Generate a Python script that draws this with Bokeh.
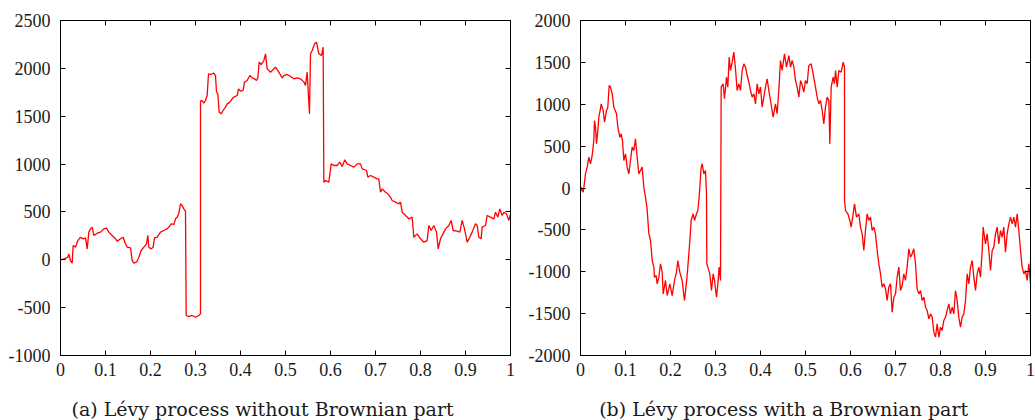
from bokeh.plotting import figure
from bokeh.layouts import row, column
from bokeh.models import LinearAxis, FixedTicker, Range1d
from bokeh.core.properties import value
from bokeh.embed import file_html
from bokeh.resources import INLINE

# ---------------- data ----------------
x_ticks = [0, 0.1, 0.2, 0.3, 0.4, 0.5, 0.6, 0.7, 0.8, 0.9, 1]
x_tick_labels = ["0", "0.1", "0.2", "0.3", "0.4", "0.5", "0.6", "0.7", "0.8", "0.9", "1"]

a_y_ticks = [-1000, -500, 0, 500, 1000, 1500, 2000, 2500]
a_y_tick_labels = ["-1000", "-500", "0", "500", "1000", "1500", "2000", "2500"]
b_y_ticks = [-2000, -1500, -1000, -500, 0, 500, 1000, 1500, 2000]
b_y_tick_labels = ["-2000", "-1500", "-1000", "-500", "0", "500", "1000", "1500", "2000"]

caption_a = "(a) Lévy process without Brownian part"
caption_b = "(b) Lévy process with a Brownian part"

a_t = [0, 0.009, 0.0163, 0.0185, 0.0222, 0.026, 0.0281, 0.0333, 0.0385, 0.0444, 0.0504, 0.0556,
       0.0593, 0.063, 0.0667, 0.0704, 0.0741, 0.0815, 0.0889, 0.0963, 0.1022, 0.1074, 0.1148,
       0.1222, 0.1259, 0.1333, 0.1393, 0.1444, 0.1481, 0.1556, 0.1593, 0.163, 0.1689, 0.1741,
       0.1793, 0.1852, 0.1911, 0.1941, 0.1963, 0.2015, 0.2059, 0.2089, 0.2148, 0.2222, 0.2296,
       0.237, 0.2407, 0.2459, 0.2519, 0.2556, 0.2593, 0.263, 0.2667, 0.2704, 0.2741, 0.2778,
       0.2793, 0.2852, 0.2926, 0.3, 0.3074, 0.3111, 0.3111, 0.3148, 0.3185, 0.3222, 0.3259,
       0.3289, 0.3333, 0.3407, 0.3444, 0.3467, 0.3496, 0.3526, 0.357, 0.3615, 0.3667, 0.3704,
       0.3763, 0.3815, 0.3852, 0.3926, 0.3956, 0.4, 0.4059, 0.4089, 0.4148, 0.4207, 0.4259,
       0.4311, 0.4356, 0.4385, 0.4415, 0.4459, 0.4519, 0.4556, 0.4593, 0.4667, 0.4741, 0.4778,
       0.4852, 0.4926, 0.4963, 0.5037, 0.5111, 0.5185, 0.5259, 0.5333, 0.541, 0.5444, 0.5481,
       0.5533, 0.5556, 0.5593, 0.5644, 0.5689, 0.5741, 0.58, 0.5837, 0.5852, 0.5889, 0.5963,
       0.6015, 0.6074, 0.6148, 0.6207, 0.6259, 0.6319, 0.637, 0.6444, 0.6519, 0.6593, 0.6667,
       0.6704, 0.68, 0.683, 0.6889, 0.6963, 0.7037, 0.7074, 0.7111, 0.7148, 0.7222, 0.7274,
       0.7333, 0.737, 0.7444, 0.7519, 0.7556, 0.7593, 0.7667, 0.7741, 0.7815, 0.7852, 0.7926,
       0.8, 0.8074, 0.8148, 0.8185, 0.8237, 0.8296, 0.8356, 0.8393, 0.8444, 0.85, 0.8556,
       0.863, 0.8681, 0.8726, 0.8815, 0.8874, 0.8926, 0.8978, 0.9037, 0.9096, 0.9148, 0.9222,
       0.9259, 0.9296, 0.9348, 0.937, 0.9444, 0.9481, 0.9556, 0.963, 0.9667, 0.9719, 0.9763,
       0.9815, 0.9852, 0.9911, 0.9963, 1.0]
a_v = [0, 10, 27, 62, -8, -35, 149, 132, 201, 236, 219, 229,
       114, 289, 323, 341, 254, 278, 289, 323, 330, 289, 254,
       219, 195, 219, 236, 167, 132, 125, -8, -35, -25, 27,
       97, 132, 167, 254, 132, 114, 132, 229, 236, 289, 306,
       323, 341, 376, 369, 428, 445, 487, 585, 567, 532, 508,
       -582, -593, -582, -600, -582, -565, 1660, 1664, 1636, 1664, 1716,
       1943, 1936, 1950, 1925, 1751, 1734, 1542, 1525, 1560, 1594, 1629,
       1647, 1682, 1699, 1716, 1786, 1762, 1769, 1856, 1873, 1925, 1901,
       1891, 1873, 1901, 2065, 2040, 2082, 2152, 1995, 1960, 1995, 2012,
       1960, 1901, 1925, 1936, 1915, 1891, 1901, 1891, 1856, 1821, 1960,
       1525, 2152, 2187, 2256, 2274, 2152, 2134, 2221, 811, 828, 811,
       1002, 985, 985, 1020, 975, 1044, 1002, 985, 968, 1002, 1002,
       950, 933, 863, 881, 863, 846, 846, 706, 741, 706, 689,
       654, 619, 602, 585, 602, 497, 463, 428, 445, 236, 271,
       219, 184, 201, 358, 306, 358, 289, 114, 219, 271, 323,
       358, 411, 306, 299, 289, 411, 323, 184, 236, 289, 376,
       358, 236, 219, 341, 358, 463, 445, 428, 497, 445, 532,
       463, 497, 480, 411, 480]

b_t = [0, 0.0015, 0.006, 0.009, 0.0111, 0.0148, 0.0185, 0.0222, 0.0259, 0.0296, 0.0311, 0.0333,
       0.0356, 0.0385, 0.0407, 0.0444, 0.0459, 0.0504, 0.0533, 0.0578, 0.0607, 0.0637, 0.0667,
       0.0704, 0.0741, 0.08, 0.083, 0.0874, 0.0904, 0.0933, 0.0963, 0.1, 0.1037, 0.1074, 0.1111,
       0.1148, 0.1185, 0.1222, 0.1259, 0.1296, 0.1333, 0.137, 0.1407, 0.1444, 0.148, 0.1519,
       0.1556, 0.1593, 0.163, 0.1644, 0.1681, 0.1704, 0.1741, 0.1778, 0.1815, 0.1837, 0.1889,
       0.1926, 0.1985, 0.2037, 0.2089, 0.2133, 0.2163, 0.2207, 0.2259, 0.2311, 0.2356, 0.2385,
       0.243, 0.2459, 0.2504, 0.2533, 0.2578, 0.2607, 0.263, 0.2652, 0.2681, 0.2704, 0.2741,
       0.2778, 0.28, 0.2807, 0.283, 0.2874, 0.2911, 0.2948, 0.2978, 0.3022, 0.3052, 0.3081,
       0.3111, 0.3126, 0.317, 0.32, 0.3244, 0.3274, 0.3304, 0.3333, 0.337, 0.3407, 0.3444,
       0.3481, 0.3519, 0.3556, 0.3593, 0.363, 0.3667, 0.3704, 0.3741, 0.3778, 0.3815, 0.3852,
       0.3889, 0.3926, 0.3963, 0.4, 0.4037, 0.4074, 0.4111, 0.4148, 0.4185, 0.4222, 0.4281,
       0.4333, 0.437, 0.4407, 0.4444, 0.4481, 0.4533, 0.4578, 0.463, 0.4667, 0.4704, 0.4741,
       0.4778, 0.4815, 0.4852, 0.4889, 0.4926, 0.4963, 0.5, 0.5037, 0.5074, 0.5126, 0.517,
       0.5222, 0.5259, 0.5296, 0.5333, 0.537, 0.5407, 0.5444, 0.5481, 0.5519, 0.5541, 0.557,
       0.5615, 0.5644, 0.5667, 0.5704, 0.5741, 0.5793, 0.5837, 0.5867, 0.5867, 0.5889, 0.5941,
       0.5985, 0.6015, 0.6059, 0.6089, 0.6133, 0.6185, 0.6222, 0.6259, 0.6296, 0.6333, 0.637,
       0.6407, 0.6444, 0.6481, 0.6519, 0.6556, 0.6593, 0.663, 0.6667, 0.6704, 0.6741, 0.6778,
       0.6815, 0.6852, 0.6889, 0.6926, 0.6963, 0.7, 0.7037, 0.7074, 0.7111, 0.7148, 0.7185,
       0.7222, 0.7259, 0.7296, 0.7333, 0.737, 0.7407, 0.7444, 0.7481, 0.7519, 0.7556, 0.7593,
       0.763, 0.7667, 0.7704, 0.7741, 0.7778, 0.7815, 0.7852, 0.7889, 0.7926, 0.7963, 0.8,
       0.8037, 0.8074, 0.8111, 0.8148, 0.8185, 0.8222, 0.8259, 0.8296, 0.8333, 0.837, 0.8407,
       0.8444, 0.8481, 0.8519, 0.8556, 0.8593, 0.863, 0.8667, 0.8704, 0.8741, 0.8778, 0.8815,
       0.8852, 0.8889, 0.8926, 0.8948, 0.9, 0.9037, 0.9074, 0.9111, 0.9148, 0.9185, 0.9222,
       0.9259, 0.9296, 0.9333, 0.937, 0.9407, 0.9444, 0.9481, 0.9519, 0.9556, 0.9593, 0.963,
       0.9667, 0.9704, 0.9741, 0.9778, 0.9815, 0.9852, 0.9889, 0.9926, 0.9963, 1.0]
b_v = [-50, 10, -50, 70, 169, 249, 368, 289, 388, 567, 806, 726,
       528, 687, 846, 945, 1005, 925, 786, 925, 965, 1224, 1204,
       1124, 965, 886, 726, 607, 647, 567, 328, 408, 249, 169, 328,
       488, 448, 587, 368, 169, 209, 249, 10, -109, -249, -547,
       -627, -866, -945, -1065, -1045, -1144, -1065, -905, -1005, -1264, -1104,
       -1284, -1144, -1284, -1104, -1005, -866, -1005, -1104, -1343, -1124, -945,
       -627, -388, -308, -388, -308, -269, -149, 10, 249, 289, 169,
       209, -70, -905, -945, -1025, -1224, -1025, -1104, -1304, -1144, -945,
       -1104, 1204, 1244, 1065, 1323, 1204, 1562, 1403, 1502, 1622, 1423,
       1164, 1244, 1164, 1403, 1482, 1443, 1343, 1263, 1164, 1085, 1124,
       1005, 1244, 1124, 1204, 965, 1085, 1204, 1303, 1164, 1045, 846,
       1005, 886, 1164, 1522, 1403, 1602, 1443, 1582, 1443, 1522, 1443,
       1284, 1204, 1085, 1284, 1224, 1144, 1284, 1244, 1463, 1483, 1363,
       1204, 1085, 1005, 1045, 925, 766, 965, 1085, 1045, 527, 1204,
       1323, 1244, 1403, 1204, 1403, 1383, 1502, 1443, -149, -269, -308,
       -388, -467, -308, -189, -348, -308, -467, -547, -746, -507, -308,
       -388, -348, -507, -467, -547, -746, -905, -1025, -1184, -1144, -1204,
       -1343, -1184, -1144, -1483, -1304, -1264, -1065, -945, -1224, -1164, -1025,
       -1104, -945, -726, -826, -786, -726, -905, -1204, -1264, -1224, -1343,
       -1304, -1423, -1463, -1562, -1503, -1542, -1721, -1781, -1622, -1781, -1662,
       -1701, -1582, -1542, -1463, -1383, -1503, -1423, -1503, -1224, -1343, -1542,
       -1662, -1542, -1503, -1343, -1025, -1144, -945, -866, -1065, -1224, -1025,
       -945, -1065, -746, -467, -667, -547, -746, -985, -746, -706, -547,
       -467, -667, -507, -587, -467, -766, -547, -428, -348, -428, -348,
       -467, -308, -507, -746, -945, -1025, -985, -1104, -905, -1144]

TICK_FONT = "Liberation Serif"
CAP_FONT = "DejaVu Serif"


def style_axis(ax, show_labels, tick_values, tick_labels):
    ax.ticker = FixedTicker(ticks=tick_values)
    ax.axis_line_color = "black"
    ax.axis_line_width = 1
    ax.major_tick_line_color = "black"
    ax.major_tick_line_width = 1
    ax.major_tick_in = 5
    ax.major_tick_out = 0
    ax.minor_tick_line_color = None
    ax.major_label_text_font = TICK_FONT
    ax.major_label_text_font_size = "18px"
    ax.major_label_text_color = "#1a1a1a"
    if show_labels:
        ax.major_label_overrides = {v: s for v, s in zip(tick_values, tick_labels)}
    else:
        ax.major_label_overrides = {v: "" for v in tick_values}
        ax.major_label_standoff = 0


def make_panel(t, v, ymin, ymax, yticks, ylabels, width, bl, br):
    p = figure(width=width, height=390, output_backend="svg", toolbar_location=None,
               x_range=Range1d(0, 1), y_range=Range1d(ymin, ymax),
               min_border_left=bl, min_border_right=br, min_border_top=20, min_border_bottom=35)
    p.line(t, v, line_color="#ff0000", line_width=1.3)
    p.grid.visible = False
    p.outline_line_color = "black"
    p.background_fill_color = "white"
    p.border_fill_color = "white"
    style_axis(p.xaxis[0], True, x_ticks, x_tick_labels)
    style_axis(p.yaxis[0], True, yticks, ylabels)
    p.xaxis[0].major_label_standoff = 7
    p.yaxis[0].major_label_standoff = 10
    top = LinearAxis()
    style_axis(top, False, x_ticks, x_tick_labels)
    right = LinearAxis()
    style_axis(right, False, yticks, ylabels)
    p.add_layout(top, "above")
    p.add_layout(right, "right")
    return p


def make_caption(text, width, cx):
    c = figure(width=width, height=30, output_backend="svg", toolbar_location=None,
               x_range=Range1d(0, 1), y_range=Range1d(0, 1),
               min_border_left=0, min_border_right=0, min_border_top=0, min_border_bottom=0,
               x_axis_type=None, y_axis_type=None)
    c.grid.visible = False
    c.outline_line_color = None
    c.text(x=[cx], y=[0.4], text=[text], text_align="center", text_baseline="middle",
           text_font=value(CAP_FONT), text_font_size="19px", text_color="#1a1a1a")
    return c


p1 = make_panel(a_t, a_v, -1000, 2500, a_y_ticks, a_y_tick_labels, 520, 60, 10)
p2 = make_panel(b_t, b_v, -2000, 2000, b_y_ticks, b_y_tick_labels, 515, 60, 5)
c1 = make_caption(caption_a, 520, 0.504)
c2 = make_caption(caption_b, 515, 0.511)

layout = column(row(p1, p2), row(c1, c2))
open("out.html", "w").write(file_html(layout, INLINE))
